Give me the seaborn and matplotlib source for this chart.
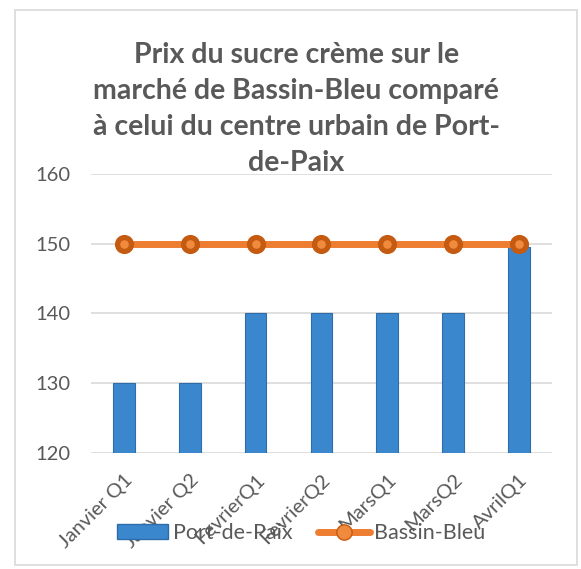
import matplotlib
matplotlib.use('Agg')
import matplotlib.pyplot as plt
import seaborn as sns
from matplotlib.patches import Patch, Rectangle
from matplotlib.lines import Line2D

periods = ['Janvier Q1', 'Janvier Q2', 'FevrierQ1', 'FevrierQ2', 'MarsQ1', 'MarsQ2', 'AvrilQ1']
port_de_paix = [130, 130, 140, 140, 140, 140, 149.6]
bassin_bleu = [150, 150, 150, 150, 150, 150, 150]

title = ('Prix du sucre crème sur le\nmarché de Bassin-Bleu comparé\n'
         'à celui du centre urbain de Port-\nde-Paix')

sns.set_style('white')
plt.rcParams['font.family'] = ['Lato', 'DejaVu Sans']
grey = '#595959'
blue = '#3B87CE'
orange = '#ED7D31'

fig = plt.figure(figsize=(5.81, 5.69), dpi=100)
ax = fig.add_axes([0.1566, 0.2039, 0.7934, 0.4903])

sns.barplot(x=periods, y=port_de_paix, color=blue, width=0.33, saturation=1,
            edgecolor='#2E6DA8', linewidth=0.8, ax=ax, zorder=2)
sns.pointplot(x=periods, y=bassin_bleu, color=orange, markers='o', markersize=10,
              linewidth=5, ax=ax, zorder=3)
for ln in ax.lines:
    ln.set_markeredgecolor('#C55A11')
    ln.set_markerfacecolor('#F08A3C')

ax.set_ylim(120, 160)
ax.set_yticks([120, 130, 140, 150, 160])
ax.yaxis.grid(True, color='#D9D9D9', linewidth=1.2, zorder=0)
ax.set_axisbelow(True)
for s in ax.spines.values():
    s.set_visible(False)
ax.tick_params(axis='both', length=0, colors=grey, labelsize=14.5)
ax.tick_params(axis='y', pad=15)
ax.tick_params(axis='x', pad=13)
plt.setp(ax.get_xticklabels(), rotation=45, ha='right', rotation_mode='anchor')
ax.set_xlabel('')
ax.set_ylabel('')

fig.text(0.51, 0.808, title, ha='center', va='center', fontsize=20.5,
         fontweight='bold', color=grey, linespacing=1.48)

handles = [Patch(facecolor=blue, edgecolor='#2E6DA8'),
           Line2D([0], [0], color=orange, linewidth=5, marker='o', markersize=11,
                  markerfacecolor='#F08A3C', markeredgecolor='#C55A11')]
fig.legend(handles, ['Port-de-Paix', 'Bassin-Bleu'], loc='center',
           bbox_to_anchor=(0.518, 0.063), ncol=2, frameon=False, fontsize=15.5,
           labelcolor=grey, handlelength=2.4, handletextpad=0.2, columnspacing=1.2)

fig.patches.append(Rectangle((0.025, 0.007), 0.968, 0.975, transform=fig.transFigure,
                             fill=False, edgecolor='#D9D9D9', linewidth=1.2))

fig.savefig('out.png', dpi=100)
